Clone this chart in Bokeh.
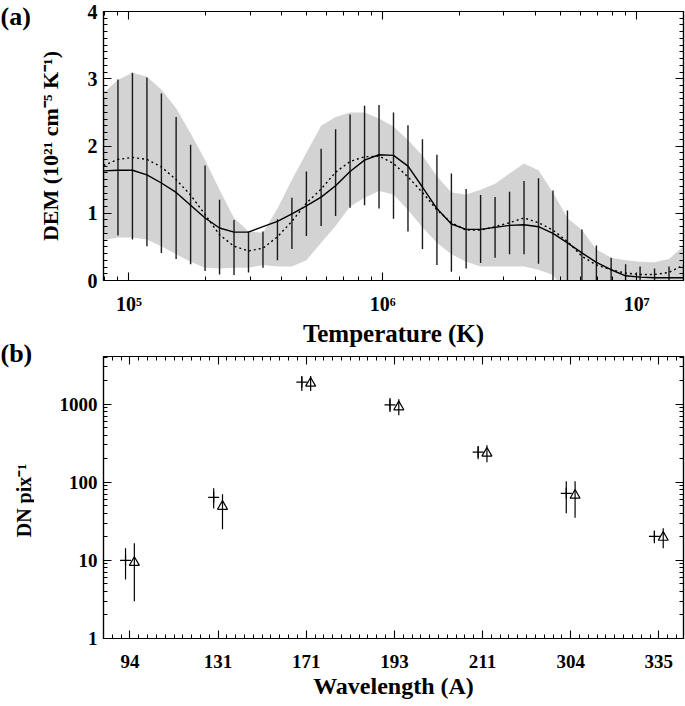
import numpy as np
from bokeh.plotting import figure
from bokeh.models import (FixedTicker, LogAxis, LinearAxis, ColumnDataSource, Range1d)
from bokeh.layouts import column, row
from bokeh.core.properties import value
from bokeh.embed import file_html
from bokeh.resources import INLINE

# ---------------- Panel (a): DEM ----------------
log_t = [4.900, 4.957, 5.014, 5.071, 5.128, 5.186, 5.243, 5.300, 5.357, 5.414,
         5.471, 5.528, 5.585, 5.642, 5.699, 5.757, 5.814, 5.871, 5.928, 5.985,
         6.042, 6.099, 6.156, 6.213, 6.270, 6.328, 6.385, 6.442, 6.499, 6.556,
         6.613, 6.670, 6.727, 6.784, 6.841, 6.899, 6.956, 7.013, 7.070, 7.127, 7.184]
dem_solid = [1.63, 1.64, 1.64, 1.57, 1.45, 1.31, 1.12, 0.93, 0.78, 0.72,
             0.72, 0.80, 0.88, 0.99, 1.11, 1.24, 1.41, 1.62, 1.79, 1.87,
             1.86, 1.70, 1.39, 1.07, 0.84, 0.76, 0.76, 0.79, 0.82, 0.83,
             0.80, 0.70, 0.56, 0.41, 0.27, 0.16, 0.07, 0.05, 0.04, 0.04, 0.04]
dem_dotted = [1.71, 1.80, 1.83, 1.80, 1.69, 1.50, 1.27, 0.98, 0.68, 0.51,
              0.44, 0.48, 0.65, 0.88, 1.15, 1.36, 1.61, 1.77, 1.84, 1.85,
              1.74, 1.54, 1.31, 1.05, 0.86, 0.75, 0.75, 0.80, 0.86, 0.93,
              0.86, 0.75, 0.58, 0.36, 0.23, 0.16, 0.11, 0.09, 0.09, 0.12, 0.23]
err_hi = [2.73, 2.99, 3.09, 3.02, 2.78, 2.43, 2.02, 1.71, 1.20, 0.90,
          0.73, 0.73, 0.91, 1.23, 1.62, 1.96, 2.25, 2.47, 2.60, 2.61,
          2.50, 2.31, 2.10, 1.87, 1.59, 1.36, 1.27, 1.24, 1.32, 1.48,
          1.52, 1.34, 1.04, 0.76, 0.52, 0.34, 0.24, 0.21, 0.18, 0.21, 0.23]
err_lo = [0.70, 0.67, 0.61, 0.51, 0.41, 0.32, 0.24, 0.14, 0.09, 0.08,
          0.12, 0.19, 0.30, 0.47, 0.66, 0.81, 0.96, 1.08, 1.12, 1.07,
          0.92, 0.73, 0.47, 0.23, 0.13, 0.18, 0.26, 0.34, 0.39, 0.39,
          0.25, -0.20, -0.20, -0.20, -0.20, -0.20, -0.20, -0.20, -0.20, -0.20, -0.20]
band_hi = [2.79, 2.98, 3.09, 3.03, 2.84, 2.56, 2.19, 1.79, 1.35, 0.93,
           0.73, 0.71, 1.07, 1.50, 1.90, 2.30, 2.43, 2.50, 2.50, 2.41,
           2.29, 2.09, 1.86, 1.55, 1.31, 1.28, 1.35, 1.44, 1.59, 1.74,
           1.64, 1.31, 0.93, 0.75, 0.46, 0.34, 0.30, 0.28, 0.27, 0.32, 0.51]
band_lo = [0.60, 0.64, 0.64, 0.61, 0.51, 0.39, 0.28, 0.19, 0.18, 0.19,
           0.19, 0.23, 0.21, 0.21, 0.30, 0.56, 0.81, 1.10, 1.23, 1.33,
           1.28, 1.05, 0.79, 0.56, 0.39, 0.28, 0.21, 0.21, 0.21, 0.21,
           0.16, 0.08, -0.20, -0.20, -0.20, -0.20, -0.20, -0.20, -0.20, -0.20, -0.20]
t_ticks = [100000, 1000000, 10000000]
t_tick_labels = ["10⁵", "10⁶", "10⁷"]
dem_ticks = [0, 1, 2, 3, 4]

# ---------------- Panel (b): DN ----------------
wavelengths = ["94", "131", "171", "193", "211", "304", "335"]
dn_obs = [10.0, 64.0, 1910.0, 975.0, 243.0, 72.0, 20.3]
dn_obs_lo = [5.7, 46.0, 1470.0, 790.0, 197.0, 40.0, 16.5]
dn_obs_hi = [14.3, 84.0, 2290.0, 1200.0, 290.0, 103.0, 24.0]
dn_mod = [9.4, 49.0, 1850.0, 920.0, 235.0, 68.0, 19.7]
dn_mod_lo = [3.0, 25.0, 1470.0, 720.0, 180.0, 35.0, 14.3]
dn_mod_hi = [16.5, 70.0, 2290.0, 1150.0, 297.0, 103.0, 25.7]
dn_ticks = [1, 10, 100, 1000]
dn_tick_labels = ["1", "10", "100", "1000"]

FONT = "Liberation Serif"


def style_axis(ax, labels=True, tick_size="19px", label_size="24px"):
    ax.axis_line_color = "black"
    ax.axis_line_width = 1.2
    ax.major_tick_in = 8
    ax.major_tick_out = 0
    ax.minor_tick_in = 4
    ax.minor_tick_out = 0
    ax.major_tick_line_color = "black"
    ax.minor_tick_line_color = "black"
    ax.major_tick_line_width = 1.1
    ax.minor_tick_line_width = 1.0
    ax.major_label_text_font = FONT
    ax.major_label_text_font_style = "bold"
    ax.major_label_text_color = "black"
    ax.axis_label_text_font = FONT
    ax.axis_label_text_font_style = "bold"
    ax.axis_label_text_color = "black"
    ax.axis_label_text_font_size = label_size
    if labels:
        ax.major_label_text_font_size = tick_size
    else:
        ax.major_label_text_font_size = "1px"
        ax.major_label_text_alpha = 0.0
        ax.major_label_standoff = 0


# ---- side strip holding the panel letters and the lower y label ----
lab = figure(width=34, height=706, x_range=Range1d(0, 34), y_range=Range1d(706, 0),
             x_axis_location=None, y_axis_location=None, min_border=0,
             output_backend="svg", toolbar_location=None)
lab.outline_line_color = None
lab.grid.visible = False
lab.text(x=[0, 0], y=[16, 353], text=["(a)", "(b)"], text_font=value(FONT),
         text_font_style="bold", text_font_size=value("26px"), text_color="black",
         text_baseline="middle", text_align="left")
lab.text(x=[23], y=[500], text=["DN pix⁻¹"], angle=np.pi / 2, text_font=value(FONT),
         text_font_style="bold", text_font_size=value("20px"), text_color="black",
         text_baseline="middle", text_align="center")

# ---- top figure ----
temps = [10 ** v for v in log_t]
src_a = ColumnDataSource(dict(t=temps, solid=dem_solid, dotted=dem_dotted,
                              ehi=err_hi, elo=err_lo, bhi=band_hi, blo=band_lo))

p1 = figure(width=651, height=349, x_axis_type="log",
            x_range=Range1d(10 ** 4.9, 10 ** 7.184), y_range=Range1d(0, 4),
            output_backend="svg", toolbar_location=None,
            min_border_left=66, min_border_right=2, min_border_top=11, min_border_bottom=66)
p1.xgrid.visible = False
p1.ygrid.visible = False
p1.outline_line_color = "black"
p1.outline_line_width = 1.2

p1.varea(x="t", y1="blo", y2="bhi", source=src_a, fill_color="#d3d3d3")
p1.segment(x0="t", y0="elo", x1="t", y1="ehi", source=src_a, line_color="#1a1a1a", line_width=1.4)
p1.line(x="t", y="dotted", source=src_a, line_color="black", line_width=1.4, line_dash="2 3")
p1.line(x="t", y="solid", source=src_a, line_color="black", line_width=1.4)

t_minor = [m * 10 ** e for e in range(4, 8) for m in range(2, 10)]
x_ticker = FixedTicker(ticks=t_ticks, minor_ticks=t_minor)
y_ticker_a = FixedTicker(ticks=dem_ticks, minor_ticks=[i / 10 for i in range(0, 41)])

p1.xaxis.ticker = x_ticker
p1.xaxis.major_label_overrides = dict(zip(t_ticks, t_tick_labels))
p1.xaxis.axis_label = "Temperature (K)"
p1.yaxis.ticker = y_ticker_a
p1.yaxis.axis_label = "DEM (10²¹ cm⁻⁵ K⁻¹)"
style_axis(p1.xaxis[0], tick_size="20px", label_size="25px")
style_axis(p1.yaxis[0], tick_size="20px", label_size="22px")
p1.xaxis.major_label_standoff = 12
p1.xaxis.axis_label_standoff = 2
p1.yaxis.major_label_standoff = 6
p1.yaxis.axis_label_standoff = 22

top_ax = LogAxis(ticker=x_ticker)
style_axis(top_ax, labels=False)
p1.add_layout(top_ax, "above")
right_ax = LinearAxis(ticker=y_ticker_a)
style_axis(right_ax, labels=False)
p1.add_layout(right_ax, "right")

# ---- bottom figure ----
idx = list(range(len(wavelengths)))
src_o = ColumnDataSource(dict(x=[i - 0.05 for i in idx], y=dn_obs, lo=dn_obs_lo, hi=dn_obs_hi))
src_m = ColumnDataSource(dict(x=[i + 0.05 for i in idx], y=dn_mod, lo=dn_mod_lo, hi=dn_mod_hi))

p2 = figure(width=651, height=357, y_axis_type="log",
            x_range=Range1d(-0.3, 6.28), y_range=Range1d(1, 4065),
            output_backend="svg", toolbar_location=None,
            min_border_left=66, min_border_right=2, min_border_top=7, min_border_bottom=68)
p2.xgrid.visible = False
p2.ygrid.visible = False
p2.outline_line_color = "black"
p2.outline_line_width = 1.2

p2.segment(x0="x", y0="lo", x1="x", y1="hi", source=src_o, line_color="black", line_width=1.2)
p2.segment(x0="x", y0="lo", x1="x", y1="hi", source=src_m, line_color="black", line_width=1.2)
p2.scatter(x="x", y="y", source=src_o, marker="cross", size=11, line_color="black", line_width=1.2)
p2.scatter(x="x", y="y", source=src_m, marker="triangle", size=10, line_color="black",
           fill_color=None, line_width=1.2)

x_ticker_b = FixedTicker(ticks=idx, minor_ticks=[round(-0.3 + 0.1 * k, 2) for k in range(0, 67)])
y_minor_b = [m * 10 ** e for e in range(0, 4) for m in range(2, 10)]
y_ticker_b = FixedTicker(ticks=dn_ticks, minor_ticks=y_minor_b)

p2.xaxis.ticker = x_ticker_b
p2.xaxis.major_label_overrides = dict(zip(idx, wavelengths))
p2.xaxis.axis_label = "Wavelength (A)"
p2.yaxis.ticker = y_ticker_b
p2.yaxis.major_label_overrides = dict(zip(dn_ticks, dn_tick_labels))
style_axis(p2.xaxis[0], tick_size="19px", label_size="24px")
style_axis(p2.yaxis[0], tick_size="19px")
p2.xaxis.major_label_standoff = 16
p2.xaxis.axis_label_standoff = 2
p2.yaxis.major_label_standoff = 6

top_ax2 = LinearAxis(ticker=x_ticker_b)
style_axis(top_ax2, labels=False)
p2.add_layout(top_ax2, "above")
right_ax2 = LogAxis(ticker=y_ticker_b)
style_axis(right_ax2, labels=False)
p2.add_layout(right_ax2, "right")

layout = row(lab, column(p1, p2))
open("out.html", "w").write(file_html(layout, INLINE))
